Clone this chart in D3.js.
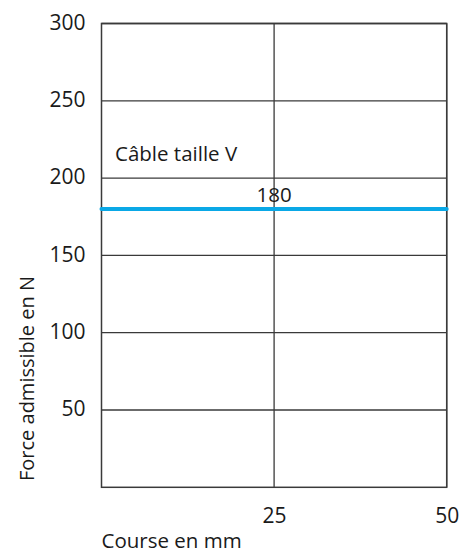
<!DOCTYPE html>
<html>
<head>
<meta charset="utf-8">
<script src="https://cdn.jsdelivr.net/npm/d3@7"></script>
<style>
  html, body { margin: 0; padding: 0; background: #fff; }
  svg { display: block; }
  text { font-family: "Open Sans", sans-serif; fill: #1a1a1a; }
</style>
</head>
<body>
<script>
const xTicks = [25, 50];
const yTicks = [50, 100, 150, 200, 250, 300];
const xDomain = [0, 50];
const yDomain = [0, 300];
const seriesName = "Câble taille V";
const seriesValues = [180, 180];
const seriesX = [0, 50];
const valueLabel = "180";
const xTitle = "Course en mm";
const yTitle = "Force admissible en N";

const W = 462, H = 553;
const m = { left: 101.5, right: 462 - 446.7, top: 23.5, bottom: 553 - 487.3 };
const svg = d3.select("body").append("svg").attr("width", W).attr("height", H);

const x = d3.scaleLinear().domain(xDomain).range([m.left, W - m.right]);
const y = d3.scaleLinear().domain(yDomain).range([H - m.bottom, m.top]);

const gridColor = "#3a3a3a";

// horizontal gridlines
svg.append("g").selectAll("line").data(yTicks).join("line")
  .attr("x1", x(xDomain[0])).attr("x2", x(xDomain[1]))
  .attr("y1", d => y(d)).attr("y2", d => y(d))
  .attr("stroke", gridColor).attr("stroke-width", 1.3);

// vertical gridlines
svg.append("g").selectAll("line").data(xTicks).join("line")
  .attr("x1", d => x(d)).attr("x2", d => x(d))
  .attr("y1", y(yDomain[0])).attr("y2", y(yDomain[1]))
  .attr("stroke", gridColor).attr("stroke-width", 1.3);

// frame
svg.append("rect")
  .attr("x", x(xDomain[0])).attr("y", y(yDomain[1]))
  .attr("width", x(xDomain[1]) - x(xDomain[0]))
  .attr("height", y(yDomain[0]) - y(yDomain[1]))
  .attr("fill", "none").attr("stroke", gridColor).attr("stroke-width", 1.5);

// y axis labels
const yAxis = d3.axisLeft(y).tickValues(yTicks).tickSize(0).tickPadding(16);
const gy = svg.append("g").attr("transform", `translate(${m.left},0)`).call(yAxis);
gy.select(".domain").remove();
gy.selectAll("text").attr("font-family", "Open Sans").attr("font-size", 21)
  .attr("fill", "#1a1a1a").attr("dy", "0.28em");

// x axis labels
const xAxis = d3.axisBottom(x).tickValues(xTicks).tickSize(0).tickPadding(21);
const gx = svg.append("g").attr("transform", `translate(0,${H - m.bottom})`).call(xAxis);
gx.select(".domain").remove();
gx.selectAll("text").attr("font-family", "Open Sans").attr("font-size", 21)
  .attr("fill", "#1a1a1a");

// series line
const line = d3.line().x((d, i) => x(seriesX[i])).y(d => y(d));
svg.append("path").datum(seriesValues)
  .attr("d", line)
  .attr("fill", "none").attr("stroke", "#0aa8e6")
  .attr("stroke-width", 4).attr("stroke-linecap", "round");

// value label
svg.append("text")
  .attr("x", x(25)).attr("y", y(seriesValues[0]) - 7)
  .attr("text-anchor", "middle").attr("font-size", 20.5)
  .text(valueLabel);

// series name
svg.append("text")
  .attr("x", 115).attr("y", 161)
  .attr("font-size", 20.5)
  .text(seriesName);

// axis titles
svg.append("text")
  .attr("x", m.left).attr("y", 548)
  .attr("font-size", 20.5)
  .text(xTitle);

svg.append("text")
  .attr("transform", `translate(34,${378.5}) rotate(-90)`)
  .attr("text-anchor", "middle")
  .attr("font-size", 20)
  .text(yTitle);
</script>
</body>
</html>
